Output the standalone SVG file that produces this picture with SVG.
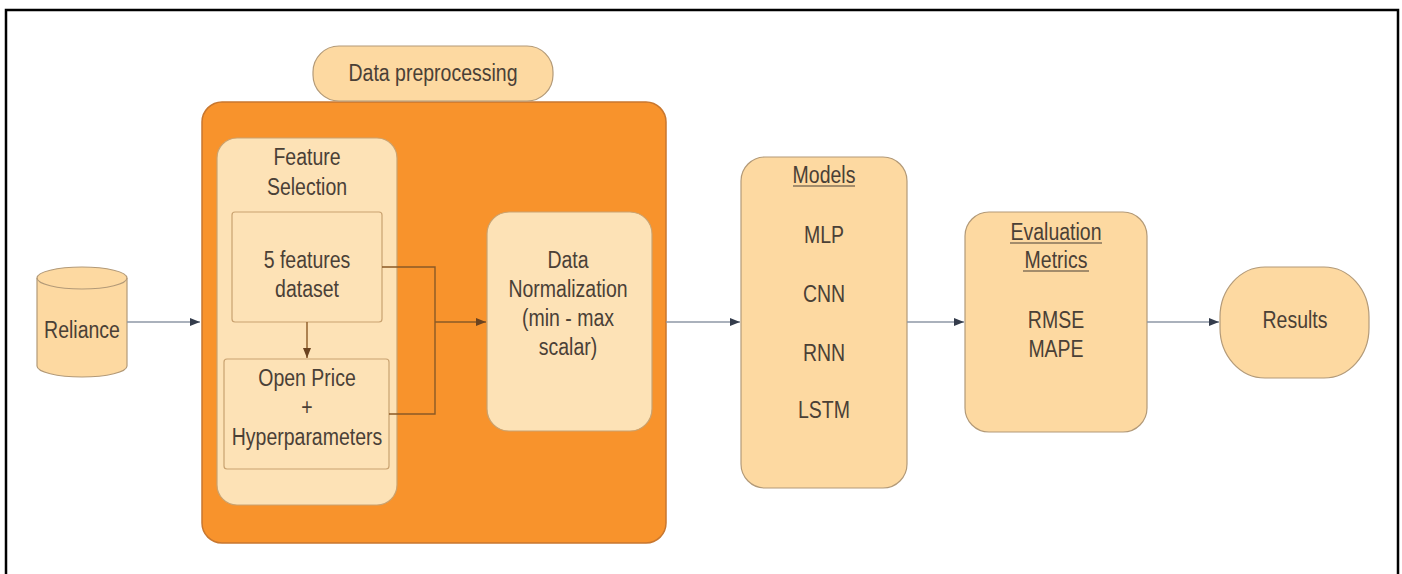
<svg xmlns="http://www.w3.org/2000/svg" width="1402" height="574" viewBox="0 0 1402 574">
  <style>
    .lbl { font-family: "Liberation Sans", Arial, sans-serif; font-size: 19.5px; fill: #4a4036; text-anchor: middle; }
    .node { fill: #fdd9a1; stroke: #b39a78; stroke-width: 1.2; }
    .inner { fill: #fde2b6; stroke: #c9a270; stroke-width: 1.2; }
    .flow { fill: none; stroke: #8e97a6; stroke-width: 1.6; }
    .flow-in { fill: none; stroke: #8a5a26; stroke-width: 1.4; }
  </style>
  <defs>
    <marker id="head" viewBox="0 0 10 8" refX="10" refY="4" markerWidth="10" markerHeight="8" markerUnits="userSpaceOnUse" orient="auto">
      <path d="M0,0 L10,4 L0,8 Z" fill="#343c4c"/>
    </marker>
    <marker id="head-in" viewBox="0 0 10 8" refX="10" refY="4" markerWidth="10" markerHeight="8" markerUnits="userSpaceOnUse" orient="auto">
      <path d="M0,0 L10,4 L0,8 Z" fill="#6b4320"/>
    </marker>
  </defs>

  <rect width="1402" height="574" fill="#ffffff"/>

  <!-- outer frame, open at the bottom -->
  <path d="M6,574 V10 H1398 V574" fill="none" stroke="#000000" stroke-width="2.5"/>

  <!-- preprocessing stage container -->
  <g id="preprocessing">
    <rect x="202" y="102" width="464" height="441" rx="20" fill="#f8932c" stroke="#c8772f" stroke-width="1.5"/>
  </g>

  <g id="preprocessing-title">
    <rect class="node" x="313" y="46" width="240" height="55" rx="26"/>
    <text class="lbl" transform="translate(433,81) scale(1,1.18)">Data preprocessing</text>
  </g>

  <g id="reliance">
    <path class="node" d="M37,278 A45,11 0 0 1 127,278 V366 A45,11 0 0 1 37,366 Z"/>
    <path d="M37,278 A45,11 0 0 0 127,278" fill="none" stroke="#b39a78" stroke-width="1.2"/>
    <text class="lbl" transform="translate(82,338) scale(1,1.18)">Reliance</text>
  </g>

  <g id="feature-selection">
    <rect class="inner" x="217" y="138" width="180" height="367" rx="20" fill="#fde0b0"/>
    <text class="lbl" transform="translate(307,165) scale(1,1.18)">Feature</text>
    <text class="lbl" transform="translate(307,195) scale(1,1.18)">Selection</text>
  </g>

  <g id="five-features">
    <rect class="inner" x="232" y="212" width="150" height="110" rx="3"/>
    <text class="lbl" transform="translate(307,268) scale(1,1.18)">5 features</text>
    <text class="lbl" transform="translate(307,297) scale(1,1.18)">dataset</text>
  </g>

  <g id="open-price">
    <rect class="inner" x="224" y="359" width="165" height="110" rx="3"/>
    <text class="lbl" transform="translate(307,386) scale(1,1.18)">Open Price</text>
    <text class="lbl" transform="translate(307,415) scale(1,1.18)">+</text>
    <text class="lbl" transform="translate(307,445) scale(1,1.18)">Hyperparameters</text>
  </g>

  <g id="normalization">
    <rect class="inner" x="487" y="212" width="165" height="219" rx="22" fill="#fde0b0"/>
    <text class="lbl" transform="translate(568,268) scale(1,1.18)">Data</text>
    <text class="lbl" transform="translate(568,297) scale(1,1.18)">Normalization</text>
    <text class="lbl" transform="translate(568,326) scale(1,1.18)">(min - max</text>
    <text class="lbl" transform="translate(568,355) scale(1,1.18)">scalar)</text>
  </g>

  <g id="models">
    <rect class="node" x="741" y="157" width="166" height="331" rx="24"/>
    <text class="lbl" transform="translate(824,183) scale(1,1.18)">Models</text>
    <line x1="793" y1="186" x2="855" y2="186" stroke="#4a4036" stroke-width="1.2"/>
    <text class="lbl" transform="translate(824,243) scale(1,1.18)">MLP</text>
    <text class="lbl" transform="translate(824,302) scale(1,1.18)">CNN</text>
    <text class="lbl" transform="translate(824,361) scale(1,1.18)">RNN</text>
    <text class="lbl" transform="translate(824,418) scale(1,1.18)">LSTM</text>
  </g>

  <g id="evaluation">
    <rect class="node" x="965" y="212" width="182" height="220" rx="24"/>
    <text class="lbl" transform="translate(1056,240) scale(1,1.18)">Evaluation</text>
    <line x1="1010" y1="243" x2="1102" y2="243" stroke="#4a4036" stroke-width="1.2"/>
    <text class="lbl" transform="translate(1056,268) scale(1,1.18)">Metrics</text>
    <line x1="1023" y1="271" x2="1089" y2="271" stroke="#4a4036" stroke-width="1.2"/>
    <text class="lbl" transform="translate(1056,328) scale(1,1.18)">RMSE</text>
    <text class="lbl" transform="translate(1056,357) scale(1,1.18)">MAPE</text>
  </g>

  <g id="results">
    <rect class="node" x="1220" y="267" width="149" height="111" rx="45" ry="50"/>
    <text class="lbl" transform="translate(1295,328) scale(1,1.18)">Results</text>
  </g>

  <g id="connectors">
    <line class="flow" x1="127" y1="322" x2="200" y2="322" marker-end="url(#head)"/>
    <line class="flow-in" x1="307" y1="322" x2="307" y2="358" marker-end="url(#head-in)"/>
    <path class="flow-in" d="M382,267 H435 V414 H389"/>
    <line class="flow-in" x1="435" y1="322" x2="486" y2="322" marker-end="url(#head-in)"/>
    <line class="flow" x1="666" y1="322" x2="740" y2="322" marker-end="url(#head)"/>
    <line class="flow" x1="907" y1="322" x2="964" y2="322" marker-end="url(#head)"/>
    <line class="flow" x1="1147" y1="322" x2="1219" y2="322" marker-end="url(#head)"/>
  </g>
</svg>
